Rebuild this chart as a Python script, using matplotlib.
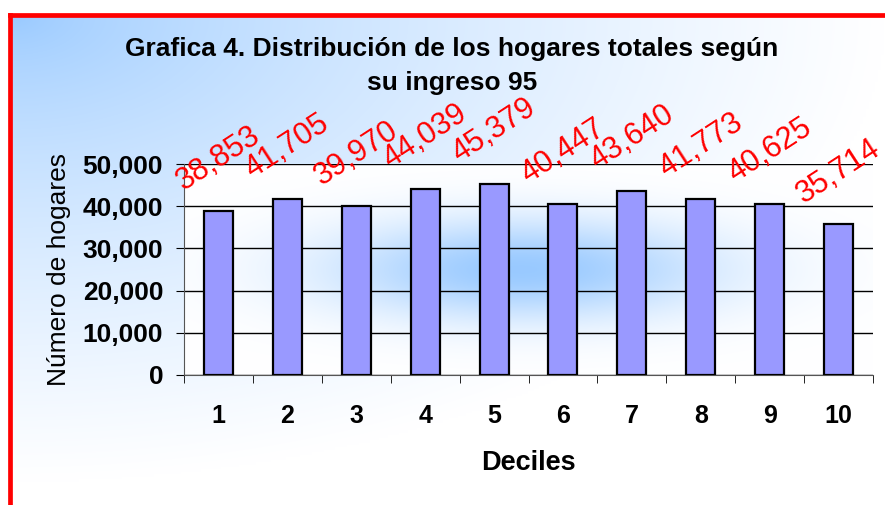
import numpy as np
import matplotlib
matplotlib.use("Agg")
import matplotlib.pyplot as plt
from matplotlib.lines import Line2D

plt.rcParams["font.family"] = ["Liberation Sans", "DejaVu Sans"]

# data
deciles = [1, 2, 3, 4, 5, 6, 7, 8, 9, 10]
hogares = [38853, 41705, 39970, 44039, 45379, 40447, 43640, 41773, 40625, 35714]
y_ticks = [0, 10000, 20000, 30000, 40000, 50000]

BAR_COLOR = "#9999FF"
LABEL_COLOR = "#FF0000"
BLUE = np.array([150, 200, 255]) / 255.0
WHITE = np.array([1.0, 1.0, 1.0])

fig = plt.figure(figsize=(8.85, 5.05), dpi=100)

# background of the chart area: blue in the top-left corner fading to white
bg = fig.add_axes([10 / 885, 0, 1 - 10 / 885, 1 - 15 / 505], zorder=-10)
gx, gy = np.meshgrid(np.linspace(0, 1, 300), np.linspace(0, 1, 200))
t = np.clip(np.sqrt((gx * 1.0) ** 2 + (gy * 1.05) ** 2), 0, 1) ** 0.65
img = BLUE[None, None, :] * (1 - t[..., None]) + WHITE[None, None, :] * t[..., None]
bg.imshow(img, aspect="auto", extent=[0, 1, 1, 0], interpolation="bilinear")
bg.axis("off")

# red frame (only top and left edges visible)
fig.add_artist(Line2D([10 / 885, 1], [1 - 15 / 505, 1 - 15 / 505],
                      transform=fig.transFigure, color="red", lw=3.4))
fig.add_artist(Line2D([10 / 885, 10 / 885], [0, 1 - 15 / 505],
                      transform=fig.transFigure, color="red", lw=3.4))

ax = fig.add_axes([184 / 885, (505 - 375) / 505, (873 - 184) / 885, 211 / 505])
ax.set_xlim(0.5, 10.5)
ax.set_ylim(0, 50000)

# white plot area with a blue glow in the middle
px, py = np.meshgrid(np.linspace(0.5, 10.5, 300), np.linspace(0, 50000, 200))
glow = np.exp(-((px - 5.4) / 2.8) ** 2 - ((py - 25000) / 12000) ** 2) * 0.97
pimg = BLUE[None, None, :] * glow[..., None] + WHITE[None, None, :] * (1 - glow[..., None])
ax.imshow(pimg, aspect="auto", extent=[0.5, 10.5, 0, 50000], origin="lower",
          interpolation="bilinear", zorder=0)

ax.set_yticks(y_ticks)
ax.set_yticklabels([f"{v:,}" for v in y_ticks], fontsize=19, fontweight="bold")
ax.grid(axis="y", color="black", lw=1, zorder=1)
ax.set_axisbelow(True)

bars = ax.bar(deciles, hogares, width=0.42, color=BAR_COLOR,
              edgecolor="black", linewidth=1.6, zorder=3)

# value labels, rotated, above each bar
for x, v in zip(deciles, hogares):
    ax.annotate(f"{v:,}", xy=(x, v), xytext=(0, 53), textcoords="offset pixels",
                ha="center", va="center", rotation=33, fontsize=22,
                color=LABEL_COLOR, annotation_clip=False, zorder=5)

ax.set_xticks(deciles)
ax.set_xticklabels([str(d) for d in deciles], fontsize=18, fontweight="bold")
ax.tick_params(axis="x", length=0, pad=21)
ax.set_xticks([d + 0.5 for d in [0] + deciles], minor=True)
ax.tick_params(axis="x", which="minor", length=6, direction="out", color="black")
ax.tick_params(axis="y", length=6, direction="out", pad=9)

for side in ["top", "right"]:
    ax.spines[side].set_visible(False)
ax.spines["left"].set_color("#555555")
ax.spines["bottom"].set_color("#555555")

ax.set_xlabel("Deciles", fontsize=19.5, fontweight="bold", labelpad=16)
ax.set_ylabel("Número de hogares", fontsize=19, labelpad=8)

fig.text(452 / 885, 1 - 66 / 505,
         "Grafica 4. Distribución de los hogares totales según\nsu ingreso 95",
         ha="center", va="center", fontsize=19, fontweight="bold",
         linespacing=1.55)

fig.savefig("out.png", dpi=100, facecolor="white")
